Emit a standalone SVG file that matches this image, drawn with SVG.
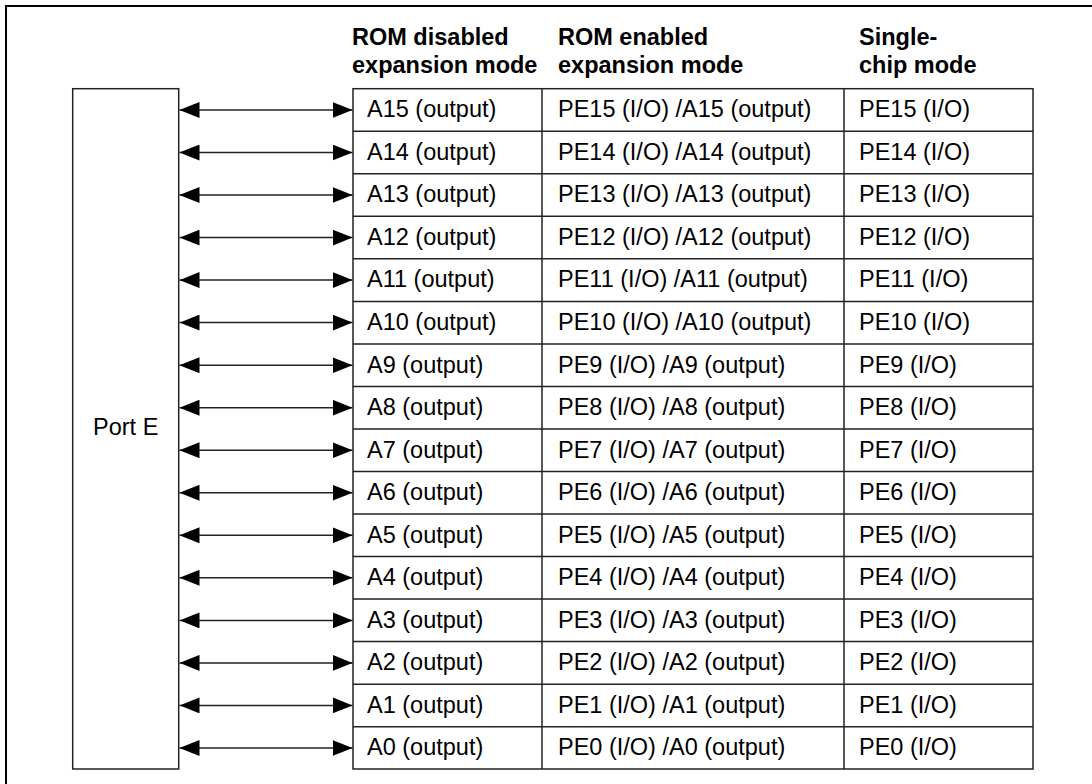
<svg xmlns="http://www.w3.org/2000/svg" width="1092" height="784" viewBox="0 0 1092 784">
<style>
text{font-family:"Liberation Sans",Arial,sans-serif;font-size:23.5px;fill:#000}
.h{font-weight:bold}
.box{fill:#fff;stroke:#222;stroke-width:1.5}
.row{fill:none;stroke:#222;stroke-width:1.5}
.conn line{stroke:#222;stroke-width:1.5;marker-start:url(#ah);marker-end:url(#ah)}
</style>
<defs>
<marker id="ah" markerUnits="userSpaceOnUse" markerWidth="20" markerHeight="16" refX="20" refY="8" orient="auto-start-reverse" viewBox="0 0 20 16">
<path d="M0,0 L20,8 L0,16 z" fill="#000"/>
</marker>
</defs>
<rect width="1092" height="784" fill="#fff"/>
<path d="M6,784 V6 H1092" fill="none" stroke="#000" stroke-width="2"/>
<g id="headers">
<text class="h" x="352" y="45">ROM disabled</text>
<text class="h" x="352" y="73">expansion mode</text>
<text class="h" x="558" y="45">ROM enabled</text>
<text class="h" x="558" y="73">expansion mode</text>
<text class="h" x="859" y="45">Single-</text>
<text class="h" x="859" y="73">chip mode</text>
</g>
<g id="portE">
<rect class="box" x="72.7" y="88.7" width="106" height="680.3"/>
<text x="125.7" y="435" text-anchor="middle">Port E</text>
</g>
<g id="table">
<rect class="box" x="353" y="88.7" width="680" height="680.3"/>
<path class="row" d="M542,88.7 V769 M844,88.7 V769 M353,131.2 H1033 M353,173.8 H1033 M353,216.3 H1033 M353,258.8 H1033 M353,301.4 H1033 M353,343.9 H1033 M353,386.4 H1033 M353,429 H1033 M353,471.5 H1033 M353,514 H1033 M353,556.6 H1033 M353,599.1 H1033 M353,641.6 H1033 M353,684.2 H1033 M353,726.7 H1033"/>
</g>
<g id="cells">
<text x="367" y="117.3">A15 (output)</text><text x="558" y="117.3">PE15 (I/O) /A15 (output)</text><text x="859" y="117.3">PE15 (I/O)</text>
<text x="367" y="159.8">A14 (output)</text><text x="558" y="159.8">PE14 (I/O) /A14 (output)</text><text x="859" y="159.8">PE14 (I/O)</text>
<text x="367" y="202.4">A13 (output)</text><text x="558" y="202.4">PE13 (I/O) /A13 (output)</text><text x="859" y="202.4">PE13 (I/O)</text>
<text x="367" y="244.9">A12 (output)</text><text x="558" y="244.9">PE12 (I/O) /A12 (output)</text><text x="859" y="244.9">PE12 (I/O)</text>
<text x="367" y="287.4">A11 (output)</text><text x="558" y="287.4">PE11 (I/O) /A11 (output)</text><text x="859" y="287.4">PE11 (I/O)</text>
<text x="367" y="330">A10 (output)</text><text x="558" y="330">PE10 (I/O) /A10 (output)</text><text x="859" y="330">PE10 (I/O)</text>
<text x="367" y="372.5">A9 (output)</text><text x="558" y="372.5">PE9 (I/O) /A9 (output)</text><text x="859" y="372.5">PE9 (I/O)</text>
<text x="367" y="415">A8 (output)</text><text x="558" y="415">PE8 (I/O) /A8 (output)</text><text x="859" y="415">PE8 (I/O)</text>
<text x="367" y="457.6">A7 (output)</text><text x="558" y="457.6">PE7 (I/O) /A7 (output)</text><text x="859" y="457.6">PE7 (I/O)</text>
<text x="367" y="500.1">A6 (output)</text><text x="558" y="500.1">PE6 (I/O) /A6 (output)</text><text x="859" y="500.1">PE6 (I/O)</text>
<text x="367" y="542.6">A5 (output)</text><text x="558" y="542.6">PE5 (I/O) /A5 (output)</text><text x="859" y="542.6">PE5 (I/O)</text>
<text x="367" y="585.2">A4 (output)</text><text x="558" y="585.2">PE4 (I/O) /A4 (output)</text><text x="859" y="585.2">PE4 (I/O)</text>
<text x="367" y="627.7">A3 (output)</text><text x="558" y="627.7">PE3 (I/O) /A3 (output)</text><text x="859" y="627.7">PE3 (I/O)</text>
<text x="367" y="670.2">A2 (output)</text><text x="558" y="670.2">PE2 (I/O) /A2 (output)</text><text x="859" y="670.2">PE2 (I/O)</text>
<text x="367" y="712.8">A1 (output)</text><text x="558" y="712.8">PE1 (I/O) /A1 (output)</text><text x="859" y="712.8">PE1 (I/O)</text>
<text x="367" y="755.3">A0 (output)</text><text x="558" y="755.3">PE0 (I/O) /A0 (output)</text><text x="859" y="755.3">PE0 (I/O)</text>
</g>
<g id="connectors" class="conn">
<line x1="179.5" y1="110" x2="352.5" y2="110"/>
<line x1="179.5" y1="152.5" x2="352.5" y2="152.5"/>
<line x1="179.5" y1="195" x2="352.5" y2="195"/>
<line x1="179.5" y1="237.6" x2="352.5" y2="237.6"/>
<line x1="179.5" y1="280.1" x2="352.5" y2="280.1"/>
<line x1="179.5" y1="322.6" x2="352.5" y2="322.6"/>
<line x1="179.5" y1="365.2" x2="352.5" y2="365.2"/>
<line x1="179.5" y1="407.7" x2="352.5" y2="407.7"/>
<line x1="179.5" y1="450.2" x2="352.5" y2="450.2"/>
<line x1="179.5" y1="492.8" x2="352.5" y2="492.8"/>
<line x1="179.5" y1="535.3" x2="352.5" y2="535.3"/>
<line x1="179.5" y1="577.8" x2="352.5" y2="577.8"/>
<line x1="179.5" y1="620.4" x2="352.5" y2="620.4"/>
<line x1="179.5" y1="662.9" x2="352.5" y2="662.9"/>
<line x1="179.5" y1="705.4" x2="352.5" y2="705.4"/>
<line x1="179.5" y1="748" x2="352.5" y2="748"/>
</g>
</svg>
